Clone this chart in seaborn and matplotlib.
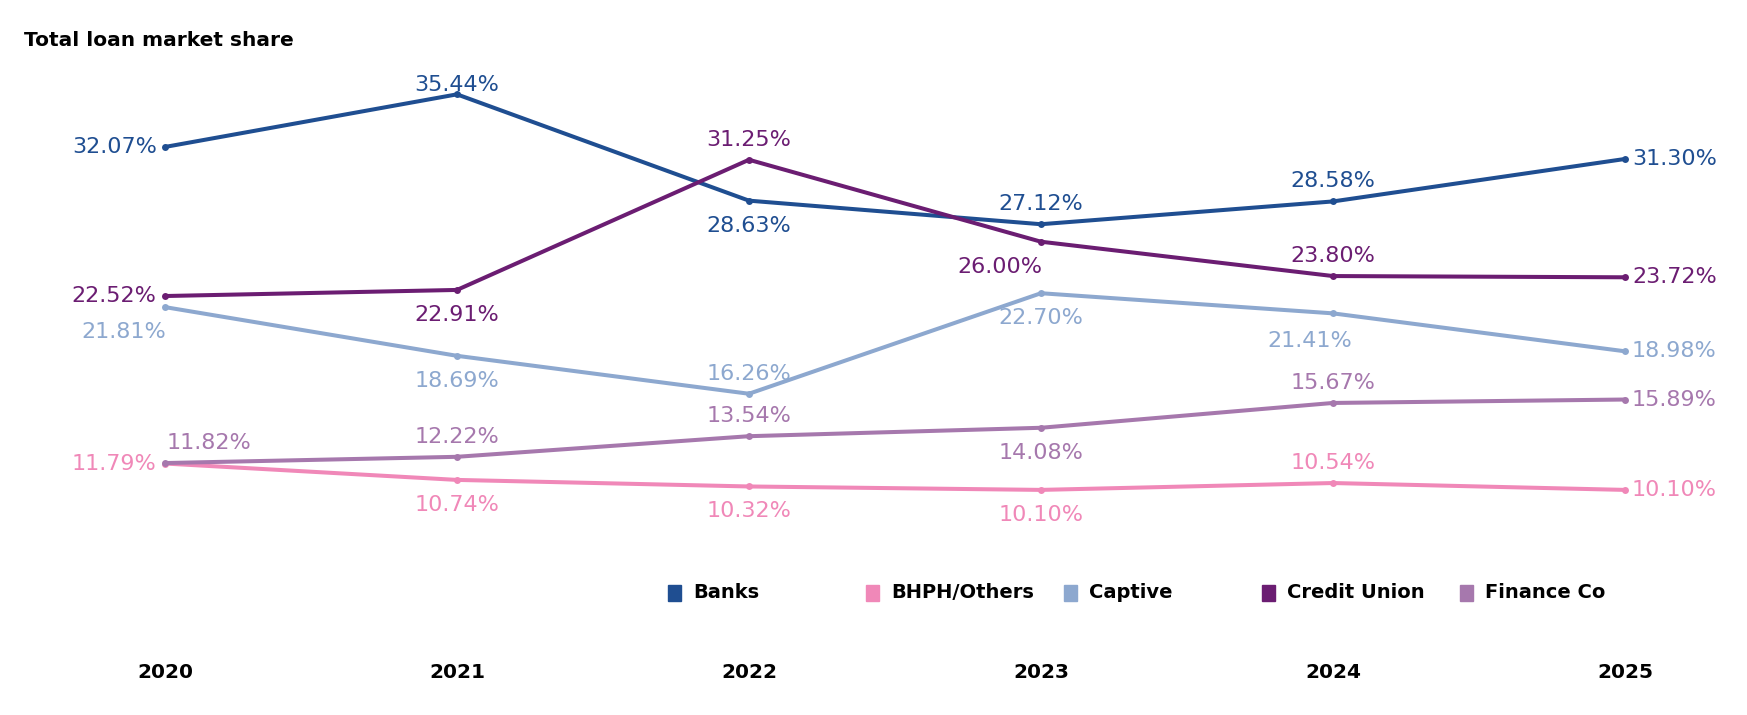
import pandas as pd
import matplotlib.pyplot as plt
import seaborn as sns
from matplotlib.patches import Rectangle

years = [2020, 2021, 2022, 2023, 2024, 2025]
banks = [32.07, 35.44, 28.63, 27.12, 28.58, 31.30]
bhph = [11.79, 10.74, 10.32, 10.10, 10.54, 10.10]
captive = [21.81, 18.69, 16.26, 22.70, 21.41, 18.98]
credit_union = [22.52, 22.91, 31.25, 26.00, 23.80, 23.72]
finance_co = [11.82, 12.22, 13.54, 14.08, 15.67, 15.89]

series_names = ['Banks', 'BHPH/Others', 'Captive', 'Credit Union', 'Finance Co']
series_values = [banks, bhph, captive, credit_union, finance_co]
colors = ['#1f4e91', '#f088b8', '#8da8cf', '#6b1d72', '#a678ad']

# where each value label sits relative to its point
placement = {
    'Banks':        ['l', 'at', 'b', 'a', 'a', 'r'],
    'BHPH/Others':  ['l', 'b', 'b', 'b', 'a', 'r'],
    'Captive':      ['bl', 'b', 'a', 'b', 'bs', 'r'],
    'Credit Union': ['l', 'b', 'a', 'bl', 'a', 'r'],
    'Finance Co':   ['ar', 'a', 'a', 'b', 'a', 'r'],
}
offsets = {
    'l': ((-6, 0), 'right', 'center'),
    'r': ((5, 0), 'left', 'center'),
    'a': ((0, 14.5), 'center', 'center'),
    'at': ((0, 7), 'center', 'center'),
    'b': ((0, -18), 'center', 'center'),
    'bl': ((1, -18), 'right', 'center'),
    'bs': ((-17, -20), 'center', 'center'),
    'ar': ((1, 14.5), 'left', 'center'),
}

rows = []
for name, vals in zip(series_names, series_values):
    for yr, v in zip(years, vals):
        rows.append({'year': yr, 'share': v, 'series': name})
df = pd.DataFrame(rows)

sns.set_style('white')
plt.rcParams['font.family'] = ['DejaVu Sans']
plt.rcParams['text.color'] = 'black'
plt.rcParams['xtick.color'] = 'black'

W, H = 1747, 715
fig = plt.figure(figsize=(W / 100, H / 100), dpi=100)
ax = fig.add_axes([0, 0.1, 1, 0.82])

sns.lineplot(data=df, x='year', y='share', hue='series', hue_order=series_names,
             palette=colors, marker='o', markersize=5, markeredgewidth=0,
             linewidth=2.9, legend=False, ax=ax)

for name, vals, c in zip(series_names, series_values, colors):
    for yr, v, code in zip(years, vals, placement[name]):
        off, ha, va = offsets[code]
        ax.annotate(f'{v:.2f}%', (yr, v), xytext=off, textcoords='offset points',
                    ha=ha, va=va, color=c, fontsize=16)

ax.set_xlim(2019.435, 2025.418)
ax.set_ylim(0.26, 37.82)
ax.set_xticks(years)
ax.set_xticklabels([str(y) for y in years], fontsize=14.5, fontweight='bold')
ax.tick_params(axis='x', length=0, pad=14, labelcolor='black')
ax.set_yticks([])
ax.set_xlabel('')
ax.set_ylabel('')
sns.despine(ax=ax, left=True, bottom=True)

fig.text(24 / W, 1 - 40 / H, 'Total loan market share', fontsize=14.5,
         fontweight='bold', ha='left', va='center', color='black')

# legend with fixed column width
leg_y = 593
for i, (name, c) in enumerate(zip(series_names, colors)):
    x0 = 668 + i * 198
    fig.add_artist(Rectangle((x0 / W, 1 - (leg_y + 8) / H), 13 / W, 16 / H,
                             transform=fig.transFigure, color=c))
    fig.text((x0 + 25) / W, 1 - leg_y / H, name, fontsize=14, fontweight='bold',
             ha='left', va='center', color='black')

fig.savefig('out.png', dpi=100)
